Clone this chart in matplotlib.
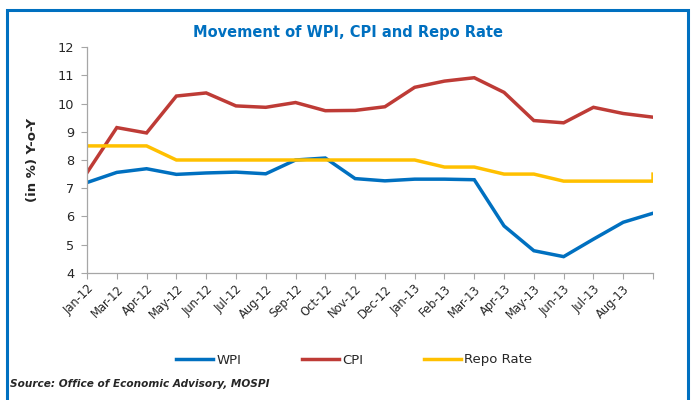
import matplotlib

matplotlib.use("Agg")
import matplotlib.pyplot as plt
from matplotlib.patches import Rectangle

MONTH_LABELS = [
    "Jan-12", "Mar-12", "Apr-12", "May-12", "Jun-12", "Jul-12", "Aug-12",
    "Sep-12", "Oct-12", "Nov-12", "Dec-12", "Jan-13", "Feb-13", "Mar-13",
    "Apr-13", "May-13", "Jun-13", "Jul-13", "Aug-13", "",
]
WPI = [7.20, 7.56, 7.69, 7.49, 7.54, 7.57, 7.51, 8.00, 8.07, 7.34,
       7.26, 7.32, 7.32, 7.30, 5.66, 4.78, 4.57, 5.19, 5.79, 6.11]
CPI = [7.55, 9.15, 8.96, 10.27, 10.38, 9.92, 9.87, 10.04, 9.75, 9.76,
       9.89, 10.58, 10.80, 10.92, 10.40, 9.40, 9.32, 9.87, 9.65, 9.52]
# repo rate closes with a jump back to 7.5 on the last category
REPO_X = list(range(20)) + [19]
REPO = [8.5, 8.5, 8.5, 8.0, 8.0, 8.0, 8.0, 8.0, 8.0, 8.0,
        8.0, 8.0, 7.75, 7.75, 7.5, 7.5, 7.25, 7.25, 7.25, 7.25, 7.5]

BLUE = "#0070C0"
RED = "#BE3B36"
GOLD = "#FFC000"
GREY = "#A6A6A6"
TEXT = "#262626"

plt.rcParams["font.family"] = ["DejaVu Sans"]

fig = plt.figure(figsize=(6.92, 4.00), dpi=100)
ax = fig.add_axes([87 / 692, 1 - 272.7 / 400, 566 / 692, 225.4 / 400])

x = list(range(len(WPI)))
ax.plot(x, WPI, color=BLUE, linewidth=2.5, label="WPI", solid_joinstyle="miter")
ax.plot(x, CPI, color=RED, linewidth=2.5, label="CPI", solid_joinstyle="miter")
ax.plot(REPO_X, REPO, color=GOLD, linewidth=2.5, label="Repo Rate",
        solid_joinstyle="miter")

ax.set_xlim(0, len(WPI) - 1)
ax.set_ylim(4, 12)
ax.set_yticks(range(4, 13))
ax.set_xticks(x)
ax.set_xticklabels(MONTH_LABELS, rotation=45, ha="right",
                   rotation_mode="anchor", fontsize=8.3, color=TEXT)
ax.tick_params(axis="y", labelsize=9.3, labelcolor=TEXT, color=GREY,
               length=4, width=0.8, pad=5)
ax.tick_params(axis="x", color=GREY, length=4, width=0.8, pad=3)
for side in ("top", "right"):
    ax.spines[side].set_visible(False)
for side in ("left", "bottom"):
    ax.spines[side].set_color(GREY)
    ax.spines[side].set_linewidth(0.9)

ax.set_ylabel("(in %) Y-o-Y", fontsize=9.5, fontweight="bold", color=TEXT)
ax.yaxis.set_label_coords(-0.085, 0.5)

fig.text(348 / 692, 1 - 33 / 400, "Movement of WPI, CPI and Repo Rate",
         color=BLUE, fontsize=10.5, fontweight="bold", ha="center", va="center")

ax.legend(loc="center", bbox_to_anchor=(354 / 692, 1 - 360 / 400),
          bbox_transform=fig.transFigure, ncol=3, frameon=False,
          fontsize=9.5, handlelength=2.8, handletextpad=0.25,
          columnspacing=4.6, labelcolor=TEXT)

fig.text(10 / 692, 1 - 384 / 400, "Source: Office of Economic Advisory, MOSPI",
         fontsize=7.6, fontweight="bold", style="italic", color=TEXT,
         ha="left", va="center")

fig.patches.append(Rectangle((7 / 692, -0.05), 681 / 692, 1.05 - 10 / 400,
                             transform=fig.transFigure, fill=False,
                             edgecolor=BLUE, linewidth=2.2))

fig.savefig("out.png", dpi=100)
